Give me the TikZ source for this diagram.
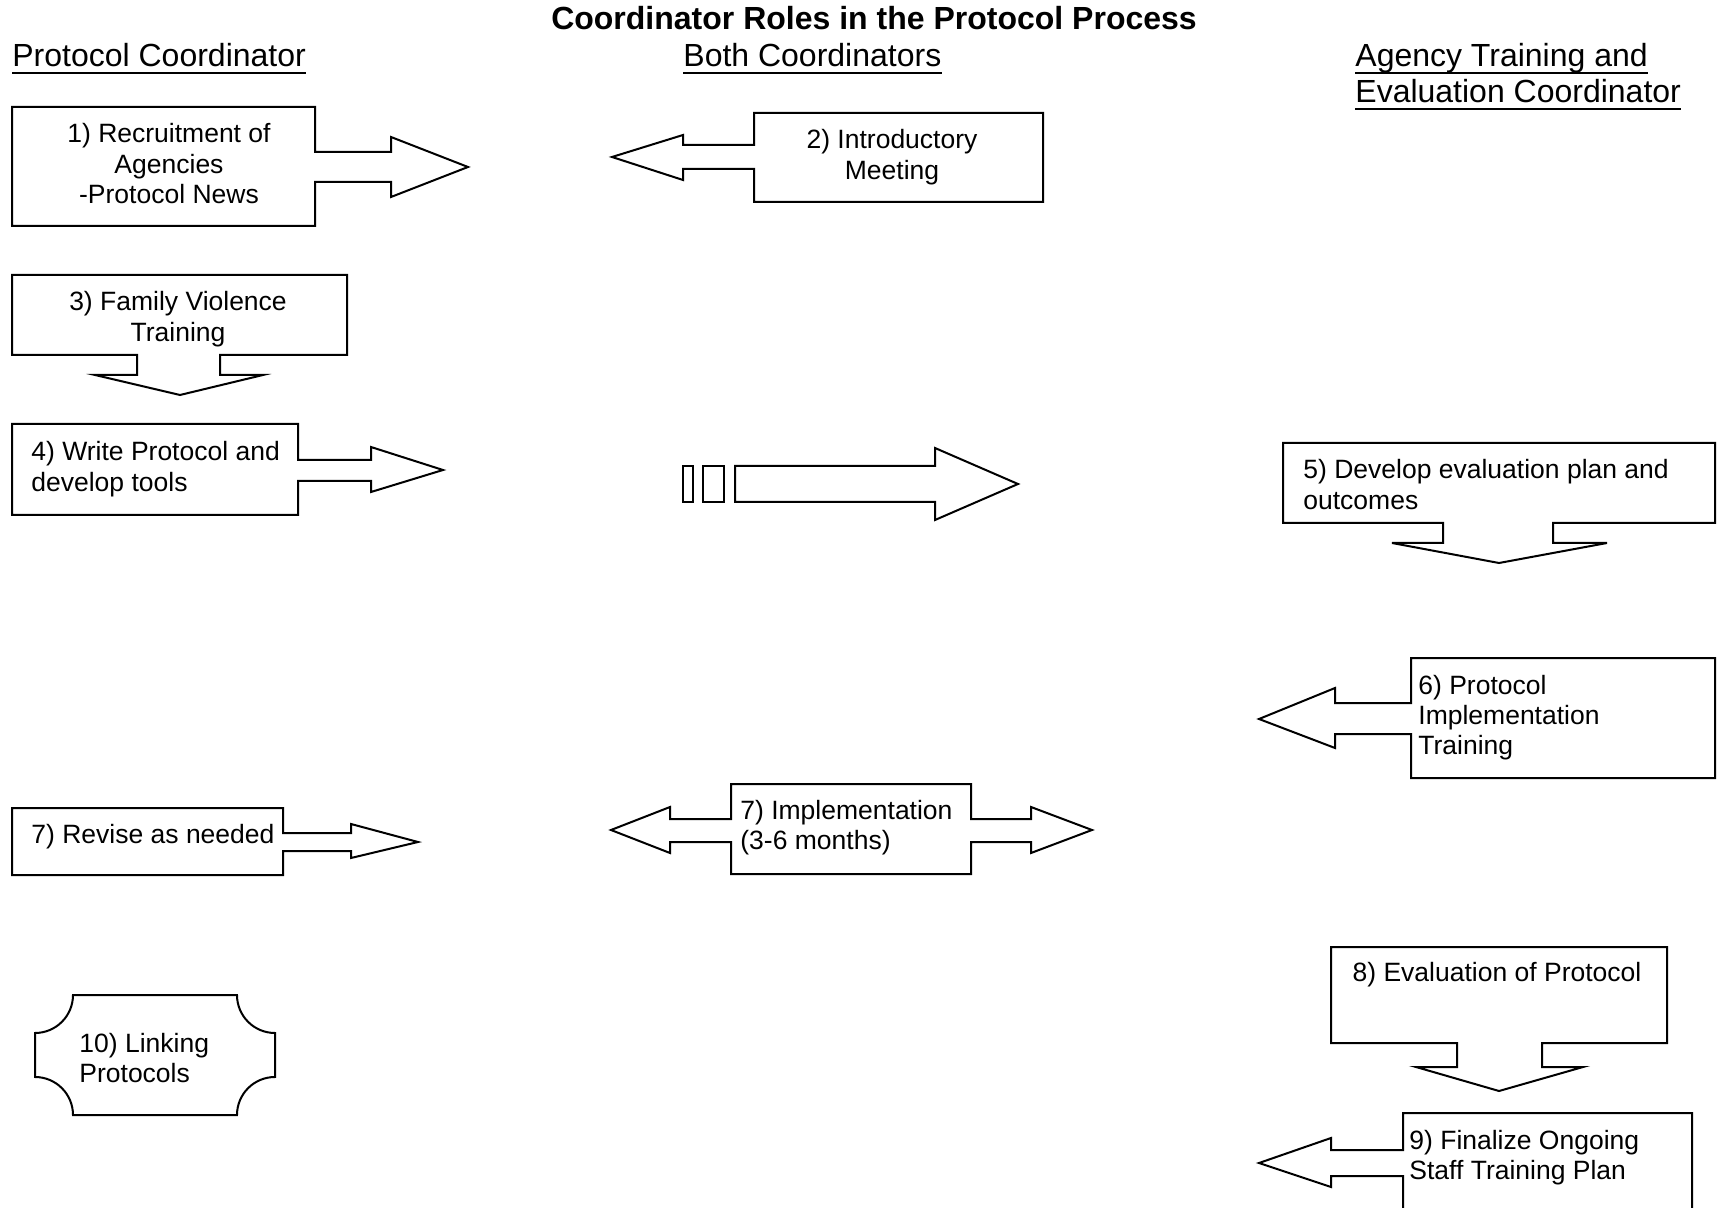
\documentclass[tikz,border=0pt]{standalone}
\usepackage{fontspec}
\setmainfont{Liberation Sans}
\begin{document}
\begin{tikzpicture}[x=0.5pt,y=-0.5pt,
  shp/.style={draw=black,line width=1pt,line join=miter,fill=white},
  body/.style={inner sep=0pt,font=\fontsize{13.25}{15.2}\selectfont},
  head/.style={inner sep=0pt,font=\fontsize{16}{18}\selectfont},
  uline/.style={line width=1.2pt}]
\useasboundingbox[fill=white] (0,0) rectangle (1720,1208);

% headers
\node[head,anchor=base] (title) at (874,30) {\textbf{Coordinator Roles in the Protocol Process}};
\node[head,anchor=base west] (h1) at (12,67) {Protocol Coordinator};
\node[head,anchor=base west] (h2) at (683,67) {Both Coordinators};
\node[head,anchor=base west] (h3a) at (1355,67) {Agency Training and};
\node[head,anchor=base west] (h3b) at (1355,103) {Evaluation Coordinator};
\foreach \h in {h1,h2,h3a,h3b}
  \draw[uline] ([yshift=-3pt]\h.base west) -- ([yshift=-3pt]\h.base east);

% 1) right arrow callout
\draw[shp] (12,107) -- (315,107) -- (315,152) -- (391,152) -- (391,137) -- (468,167)
  -- (391,197) -- (391,182) -- (315,182) -- (315,226) -- (12,226) -- cycle;
\node[body,anchor=base] (t1) at (169,143)
  {\begin{tabular}[t]{@{}c@{}}1) Recruitment of\\Agencies\\-Protocol News\end{tabular}};

% 2) left arrow callout
\draw[shp] (754,113) -- (1043,113) -- (1043,202) -- (754,202) -- (754,169) -- (683,169)
  -- (683,180) -- (612,157) -- (683,135) -- (683,145) -- (754,145) -- cycle;
\node[body,anchor=base] (t2) at (892,149)
  {\begin{tabular}[t]{@{}c@{}}2) Introductory\\Meeting\end{tabular}};

% 3) down arrow callout
\draw[shp] (12,275) -- (347,275) -- (347,355) -- (220,355) -- (220,375) -- (263,375)
  -- (180,395) -- (95,375) -- (137,375) -- (137,355) -- (12,355) -- cycle;
\node[body,anchor=base] (t3) at (178,311)
  {\begin{tabular}[t]{@{}c@{}}3) Family Violence\\Training\end{tabular}};

% 4) right arrow callout
\draw[shp] (12,424) -- (298,424) -- (298,460) -- (371,460) -- (371,447) -- (443,470)
  -- (371,492) -- (371,481) -- (298,481) -- (298,515) -- (12,515) -- cycle;
\node[body,anchor=base west] (t4) at (31,461)
  {\begin{tabular}[t]{@{}l@{}}4) Write Protocol and\\develop tools\end{tabular}};

% striped arrow
\draw[shp] (683,466) rectangle (693,502);
\draw[shp] (703,466) rectangle (724,502);
\draw[shp] (735,466) -- (935,466) -- (935,448) -- (1018,484) -- (935,520) -- (935,502)
  -- (735,502) -- cycle;

% 5) down arrow callout
\draw[shp] (1283,443) -- (1715,443) -- (1715,523) -- (1553,523) -- (1553,543) -- (1607,543)
  -- (1499,563) -- (1392,543) -- (1443,543) -- (1443,523) -- (1283,523) -- cycle;
\node[body,anchor=base west] (t5) at (1303,479)
  {\begin{tabular}[t]{@{}l@{}}5) Develop evaluation plan and\\outcomes\end{tabular}};

% 6) left arrow callout
\draw[shp] (1411,658) -- (1715,658) -- (1715,778) -- (1411,778) -- (1411,734) -- (1335,734)
  -- (1335,748) -- (1259,719) -- (1335,688) -- (1335,703) -- (1411,703) -- cycle;
\node[body,anchor=base west] (t6) at (1418,694)
  {\begin{tabular}[t]{@{}l@{}}6) Protocol\\Implementation\\Training\end{tabular}};

% 7) revise
\draw[shp] (12,808) -- (283,808) -- (283,833) -- (351,833) -- (351,824) -- (418,842)
  -- (351,858) -- (351,851) -- (283,851) -- (283,875) -- (12,875) -- cycle;
\node[body,anchor=base west] (t7a) at (31,843) {7) Revise as needed};

% 7) implementation double arrow
\draw[shp] (731,784) -- (971,784) -- (971,819) -- (1031,819) -- (1031,807) -- (1092,830)
  -- (1031,853) -- (1031,842) -- (971,842) -- (971,874) -- (731,874) -- (731,842)
  -- (670,842) -- (670,853) -- (611,830) -- (670,807) -- (670,819) -- (731,819) -- cycle;
\node[body,anchor=base west] (t7b) at (740,819)
  {\begin{tabular}[t]{@{}l@{}}7) Implementation\\(3-6 months)\end{tabular}};

% 8) down arrow callout
\draw[shp] (1331,947) -- (1667,947) -- (1667,1043) -- (1542,1043) -- (1542,1067) -- (1583,1067)
  -- (1499,1091) -- (1416,1067) -- (1457,1067) -- (1457,1043) -- (1331,1043) -- cycle;
\node[body,anchor=base] (t8) at (1497,981) {8) Evaluation of Protocol};

% 9) left arrow callout (cut by the page edge)
\draw[shp] (1403,1212) -- (1403,1176) -- (1331,1176) -- (1331,1187) -- (1259,1163)
  -- (1331,1138) -- (1331,1150) -- (1403,1150) -- (1403,1113) -- (1692,1113) -- (1692,1212);
\node[body,anchor=base west] (t9) at (1409,1149)
  {\begin{tabular}[t]{@{}l@{}}9) Finalize Ongoing\\Staff Training Plan\end{tabular}};

% 10) plaque
\draw[shp] (73,995) -- (237,995) arc[start angle=180,end angle=270,radius=19pt]
  -- (275,1077) arc[start angle=90,end angle=180,radius=19pt]
  -- (73,1115) arc[start angle=0,end angle=90,radius=19pt]
  -- (35,1033) arc[start angle=270,end angle=360,radius=19pt] -- cycle;
\node[body,anchor=base west] (t10) at (79,1052)
  {\begin{tabular}[t]{@{}l@{}}10) Linking\\Protocols\end{tabular}};
\end{tikzpicture}
\end{document}
